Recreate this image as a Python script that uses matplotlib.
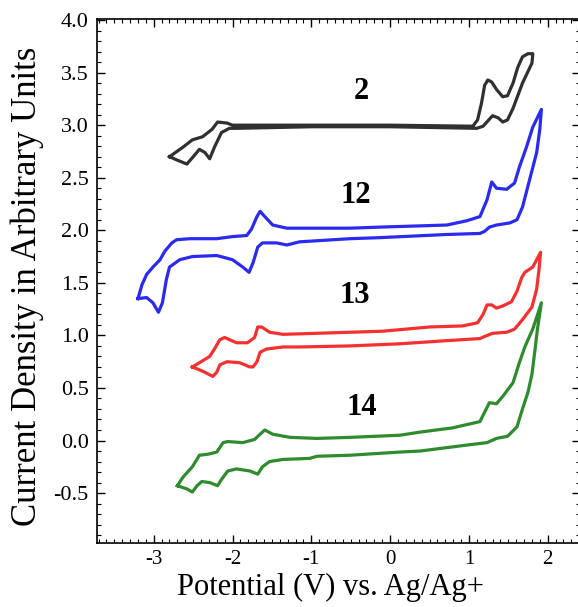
#!/usr/bin/env python3

import matplotlib
matplotlib.use('Agg')
import matplotlib.pyplot as plt
from matplotlib.ticker import MultipleLocator

# cyclic voltammograms, forward sweep (upper) then return sweep (lower)
x_2_up = [-2.80, -2.63, -2.51, -2.38, -2.26, -2.19, -2.07, -2.00, -1.0, 0.0, 1.05, 1.11, 1.16,
          1.20, 1.24, 1.29, 1.35, 1.43, 1.49, 1.56, 1.62, 1.68, 1.75, 1.81]
y_2_up = [2.70, 2.79, 2.86, 2.89, 2.96, 3.03, 3.02, 3.00, 3.00, 3.00, 2.99, 3.05, 3.21,
          3.38, 3.43, 3.41, 3.34, 3.27, 3.28, 3.40, 3.55, 3.65, 3.68, 3.68]
x_2_dn = [1.81, 1.80, 1.68, 1.56, 1.49, 1.43, 1.37, 1.30, 1.18, 1.10, 0.0, -1.0, -1.95, -2.04,
          -2.14, -2.23, -2.29, -2.35, -2.42, -2.51, -2.58, -2.71, -2.80]
y_2_dn = [3.67, 3.59, 3.40, 3.16, 3.05, 3.03, 3.07, 3.09, 2.99, 2.97, 2.985, 2.985, 2.97, 2.97,
          2.93, 2.79, 2.68, 2.74, 2.77, 2.69, 2.63, 2.67, 2.70]

x_12_up = [-3.20, -3.15, -3.09, -3.01, -2.92, -2.86, -2.77, -2.71, -2.54, -2.20, -2.00, -1.82,
           -1.76, -1.69, -1.65, -1.59, -1.49, -1.31, -1.15, -0.51, -0.13, 0.72, 0.97, 1.14,
           1.23, 1.29, 1.35, 1.48, 1.58, 1.64, 1.73, 1.81, 1.92]
y_12_up = [1.35, 1.48, 1.58, 1.65, 1.72, 1.80, 1.88, 1.91, 1.92, 1.92, 1.94, 1.95,
           2.01, 2.13, 2.18, 2.13, 2.05, 2.02, 2.02, 2.02, 2.03, 2.05, 2.09, 2.13,
           2.29, 2.46, 2.40, 2.39, 2.45, 2.60, 2.79, 2.98, 3.15]
x_12_dn = [1.92, 1.90, 1.86, 1.77, 1.68, 1.61, 1.52, 1.35, 1.26, 1.20, 1.14, 0.72, -0.13,
           -0.51, -1.15, -1.31, -1.44, -1.62, -1.68, -1.74, -1.79, -1.87, -2.00, -2.20,
           -2.51, -2.67, -2.80, -2.84, -2.89, -2.94, -3.01, -3.09, -3.20]
y_12_dn = [3.15, 2.96, 2.74, 2.48, 2.22, 2.10, 2.07, 2.05, 2.03, 1.99, 1.97, 1.96, 1.93,
           1.92, 1.89, 1.86, 1.88, 1.88, 1.84, 1.69, 1.60, 1.65, 1.72, 1.76,
           1.75, 1.72, 1.65, 1.53, 1.31, 1.22, 1.31, 1.36, 1.35]

x_13_up = [-2.51, -2.42, -2.29, -2.23, -2.16, -2.10, -1.95, -1.81, -1.72, -1.68, -1.63, -1.53,
           -1.36, -0.93, -0.09, 0.50, 0.92, 1.11, 1.18, 1.23, 1.29, 1.35, 1.43, 1.54, 1.61,
           1.67, 1.71, 1.81, 1.91]
y_13_up = [0.70, 0.74, 0.80, 0.87, 0.96, 0.98, 0.93, 0.93, 0.98, 1.08, 1.08, 1.03,
           1.01, 1.02, 1.04, 1.08, 1.09, 1.12, 1.20, 1.29, 1.29, 1.26, 1.28, 1.32, 1.42,
           1.55, 1.60, 1.65, 1.79]
x_13_dn = [1.91, 1.89, 1.86, 1.80, 1.68, 1.58, 1.48, 1.30, 1.20, 1.14, 0.72, 0.12, -0.51,
           -1.15, -1.36, -1.57, -1.65, -1.69, -1.74, -1.78, -1.91, -2.07, -2.16, -2.20,
           -2.25, -2.38, -2.51]
y_13_dn = [1.79, 1.63, 1.44, 1.27, 1.15, 1.06, 1.03, 1.02, 0.99, 0.97, 0.95, 0.92, 0.90,
           0.89, 0.89, 0.87, 0.84, 0.75, 0.70, 0.70, 0.74, 0.75, 0.72, 0.65,
           0.61, 0.66, 0.70]

x_14_up = [-2.70, -2.63, -2.51, -2.42, -2.31, -2.20, -2.12, -2.06, -1.87, -1.72, -1.65, -1.59,
           -1.49, -1.27, -0.93, -0.51, 0.12, 0.38, 0.79, 1.14, 1.20, 1.26, 1.35, 1.43, 1.56,
           1.64, 1.71, 1.81, 1.92]
y_14_up = [-0.43, -0.35, -0.25, -0.14, -0.13, -0.11, -0.02, -0.01, -0.02, 0.01, 0.06, 0.10,
           0.06, 0.03, 0.02, 0.03, 0.05, 0.08, 0.12, 0.18, 0.27, 0.36, 0.35, 0.42, 0.55,
           0.74, 0.89, 1.06, 1.31]
x_14_dn = [1.92, 1.87, 1.84, 1.80, 1.75, 1.68, 1.61, 1.49, 1.35, 1.23, 1.01, 0.38, 0.12,
           -0.51, -0.93, -1.02, -1.36, -1.53, -1.62, -1.68, -1.78, -1.95, -2.06, -2.14,
           -2.19, -2.29, -2.39, -2.45, -2.51, -2.58, -2.70]
y_14_dn = [1.31, 1.06, 0.87, 0.63, 0.46, 0.30, 0.13, 0.04, 0.02, -0.02, -0.04, -0.10, -0.11,
           -0.14, -0.15, -0.17, -0.18, -0.20, -0.25, -0.32, -0.29, -0.27, -0.29, -0.37,
           -0.43, -0.40, -0.39, -0.43, -0.49, -0.46, -0.43]

curves = [
    ('2', x_2_up + x_2_dn, y_2_up + y_2_dn, '#303030', (-0.36, 3.32)),
    ('12', x_12_up + x_12_dn, y_12_up + y_12_dn, '#2a2af0', (-0.44, 2.33)),
    ('13', x_13_up + x_13_dn, y_13_up + y_13_dn, '#f53030', (-0.45, 1.38)),
    ('14', x_14_up + x_14_dn, y_14_up + y_14_dn, '#2e8b2e', (-0.36, 0.31)),
]


def main():
    plt.rcParams['font.family'] = ['Liberation Serif', 'DejaVu Serif']
    fig = plt.figure(figsize=(5.78, 6.07), dpi=100)
    ax = fig.add_axes([97 / 578, 64 / 607, 483 / 578, 524 / 607])

    for name, xs, ys, color, pos in curves:
        ax.plot(xs, ys, color=color, lw=2.3, solid_joinstyle='round')
        ax.text(pos[0], pos[1], name, fontsize=22, fontweight='bold',
                ha='center', va='center')

    ax.set_xlim(-3.72, 2.41)
    ax.set_ylim(-0.975, 4.01)
    ax.xaxis.set_minor_locator(MultipleLocator(0.1))
    ax.yaxis.set_minor_locator(MultipleLocator(0.1))
    ax.set_yticks([-0.5, 0.0, 0.5, 1.0, 1.5, 2.0, 2.5, 3.0, 3.5, 4.0])
    ax.set_yticklabels(['-0.5', '0.0', '0.5', '1.0', '1.5', '2.0', '2.5', '3.0', '3.5', '4.0'])
    ax.set_xticks([-3, -2, -1, 0, 1, 2])
    ax.set_xticklabels(['-3', '-2', '-1', '0', '1', '2'])
    ax.tick_params(which='both', direction='in', top=True, right=True)
    ax.tick_params(which='major', length=6, width=1)
    ax.tick_params(which='minor', length=3, width=0.8)
    ax.tick_params(axis='y', pad=6, labelsize=16)
    ax.tick_params(axis='x', pad=5, labelsize=15)
    for sp in ax.spines.values():
        sp.set_linewidth(1.2)

    ax.set_xlabel('Potential (V) vs. Ag/Ag+', fontsize=22)
    ax.set_ylabel('Current Density in Arbitrary Units', fontsize=25)
    ax.xaxis.set_label_coords(0.483, -0.057)
    ax.yaxis.set_label_coords(-0.110, 0.49)

    fig.savefig('out.png', dpi=100)


if __name__ == '__main__':
    main()
